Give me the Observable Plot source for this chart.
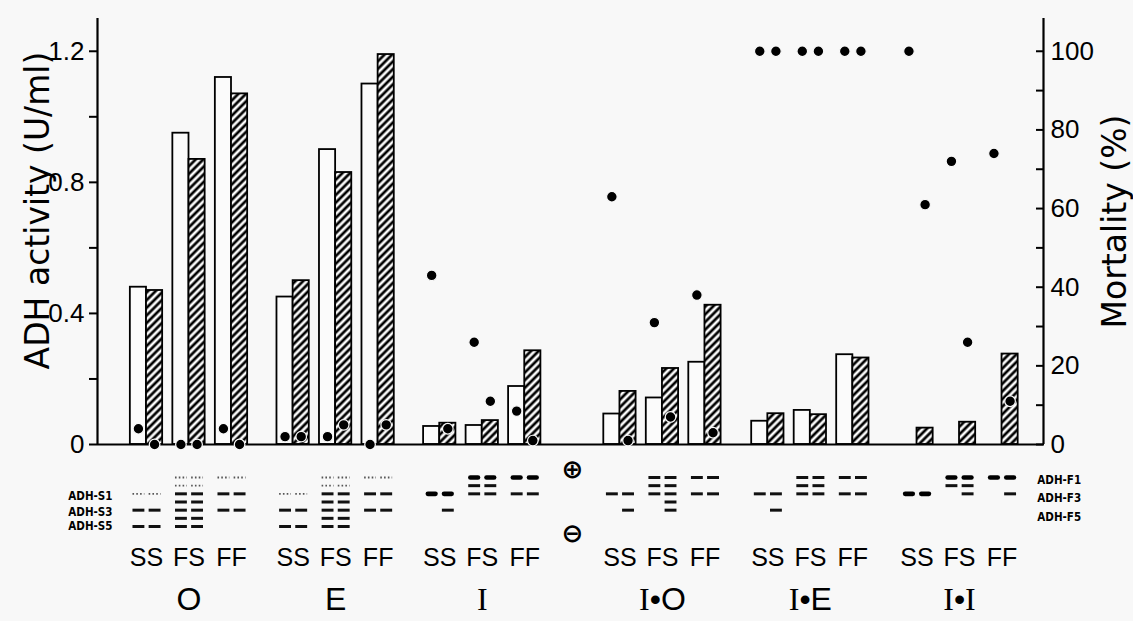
<!DOCTYPE html>
<html>
<head>
<meta charset="utf-8">
<script src="https://cdn.jsdelivr.net/npm/d3@7"></script>
<script src="https://cdn.jsdelivr.net/npm/@observablehq/plot@0.6"></script>
<style>
html, body { margin: 0; padding: 0; background: #f8f8f8; }
#chart svg { display: block; }
</style>
</head>
<body>
<div id="chart"></div>
<script>
// ---------------- data ----------------
const groups = ["O", "E", "I", "I•O", "I•E", "I•I"];
const genotypes = ["SS", "FS", "FF"];

// ADH activity (U/ml): open bars (females) and hatched bars (males), rows = groups, cols = SS, FS, FF
const adhFemale = [
  [0.48, 0.95, 1.12],
  [0.45, 0.90, 1.10],
  [0.055, 0.058, 0.177],
  [0.093, 0.142, 0.251],
  [0.071, 0.104, 0.274],
  [0, 0, 0]
];
const adhMale = [
  [0.47, 0.87, 1.07],
  [0.50, 0.83, 1.19],
  [0.065, 0.073, 0.286],
  [0.162, 0.232, 0.425],
  [0.094, 0.091, 0.264],
  [0.05, 0.068, 0.276]
];
// Mortality (%) — dots
const mortFemale = [
  [4, 0, 4],
  [2, 2, 0],
  [43, 26, 8.5],
  [63, 31, 38],
  [100, 100, 100],
  [100, 72, 74]
];
const mortMale = [
  [0, 0, 0],
  [2, 5, 5],
  [4, 11, 1],
  [1, 7, 3],
  [100, 100, 100],
  [61, 26, 11]
];
// Zymogram band patterns: [female lane, male lane]; one character per band row (0..6)
// "." faint band, "-" band, "=" strong band, " " no band
const bandPatterns = [
  [["  . - -", "  . - -"], ["..-----", "..-----"], [". - -  ", ". - -  "]],
  [["  . - -", "  . - -"], ["..-----", "..-----"], [". - -  ", ". - -  "]],
  [["  =    ", "  = -  "], ["=--    ", "=--    "], ["= -    ", "= -    "]],
  [["  -    ", "  - -  "], ["---    ", "-----  "], ["- -    ", "- -    "]],
  [["  -    ", "  - -  "], ["---    ", "---    "], ["- -    ", "- -    "]],
  [["  =    ", "  =    "], ["=-     ", "=--    "], ["=      ", "= -    "]]
];
const sLabels = ["ADH-S1", "ADH-S3", "ADH-S5"];
const fLabels = ["ADH-F1", "ADH-F3", "ADH-F5"];
const poleLabels = ["⊕", "⊖"];
const leftTicks = [0, 0.2, 0.4, 0.6, 0.8, 1.0, 1.2];
const rightTicks = [0, 10, 20, 30, 40, 50, 60, 70, 80, 90, 100];
const yTitle = "ADH activity (U/ml)";
const y2Title = "Mortality (%)";

// ---------------- layout ----------------
const FONT = "'Liberation Sans', Arial, sans-serif";
const TITLEFONT = "'DejaVu Sans', 'Liberation Sans', sans-serif";
const NARROW = "'Liberation Sans Narrow', 'DejaVu Sans Condensed', 'Liberation Sans', sans-serif";
const PAPER = "#f8f8f8";
const W = 1133;
const xDomain = [-1.153, 21.106];
const groupX = [0, 3.45, 6.9, 11.14, 14.62, 18.13];
const barW = 0.38;
const mortToY = m => m * 1.2 / 100;

const records = [];
groups.forEach((g, gi) => genotypes.forEach((gt, ki) => {
  [0, 1].forEach(li => {
    records.push({
      group: g, genotype: gt, gi, ki, li,
      adh: (li ? adhMale : adhFemale)[gi][ki],
      mort: (li ? mortMale : mortFemale)[gi][ki]
    });
  });
}));
const slot = d => groupX[d.gi] + d.ki;
const barX1 = d => slot(d) + (d.li ? 0 : -barW);
const barX2 = d => slot(d) + (d.li ? barW : 0);
const barMid = d => slot(d) + (d.li ? barW / 2 : -barW / 2);

const main = Plot.plot({
  width: W, height: 452,
  marginTop: 18, marginBottom: 8, marginLeft: 97, marginRight: 90,
  style: {background: PAPER, fontFamily: FONT, color: "black", overflow: "visible"},
  x: {domain: xDomain, axis: null},
  y: {domain: [0, 1.3]},
  marks: [
    Plot.rect(records.filter(d => d.li === 0 && d.adh > 0),
      {x1: barX1, x2: barX2, y1: 0, y2: "adh", fill: "#fbfbfb", stroke: "black", strokeWidth: 1.8}),
    Plot.rect(records.filter(d => d.li === 1 && d.adh > 0),
      {x1: barX1, x2: barX2, y1: 0, y2: "adh", fill: "url(#hatch)", stroke: "black", strokeWidth: 1.8}),
    Plot.ruleY([0], {strokeWidth: 2.2}),
    Plot.ruleX(xDomain, {y1: 0, y2: 1.3, strokeWidth: 2.2}),
    Plot.axisY(leftTicks, {
      anchor: "left", tickSize: 8, tickPadding: 5, strokeWidth: 2, fontSize: 26, label: null,
      tickFormat: d => { const t = Math.round(d * 10); return t % 4 === 0 ? (t === 0 ? "0" : d.toFixed(1)) : ""; }
    }),
    Plot.axisY(rightTicks.map(mortToY), {
      anchor: "right", tickSize: -8, tickPadding: 15, strokeWidth: 2, fontSize: 26, label: null,
      tickFormat: v => { const p = Math.round(v / 1.2 * 100); return p % 20 === 0 ? String(p) : ""; }
    }),
    Plot.dot(records, {x: barMid, y: d => mortToY(d.mort), r: 5.3, fill: "black", stroke: PAPER, strokeWidth: 1.2}),
    Plot.text([yTitle], {text: d => d, frameAnchor: "left", textAnchor: "middle", dx: -59, dy: -21, rotate: -90, fontSize: 33, fontFamily: TITLEFONT}),
    Plot.text([y2Title], {text: d => d, frameAnchor: "right", textAnchor: "middle", dx: 72, dy: -10, rotate: -90, fontSize: 33, fontFamily: TITLEFONT})
  ]
});

// hatch pattern
const NS = "http://www.w3.org/2000/svg";
const defs = document.createElementNS(NS, "defs");
const pat = document.createElementNS(NS, "pattern");
pat.setAttribute("id", "hatch");
pat.setAttribute("patternUnits", "userSpaceOnUse");
pat.setAttribute("width", "5.4");
pat.setAttribute("height", "5.4");
pat.setAttribute("patternTransform", "rotate(45)");
const pbg = document.createElementNS(NS, "rect");
pbg.setAttribute("width", "5.4"); pbg.setAttribute("height", "5.4"); pbg.setAttribute("fill", "#fbfbfb");
const pln = document.createElementNS(NS, "line");
pln.setAttribute("x1", "2.7"); pln.setAttribute("x2", "2.7");
pln.setAttribute("y1", "-1"); pln.setAttribute("y2", "7");
pln.setAttribute("stroke", "black"); pln.setAttribute("stroke-width", "2.7");
pat.appendChild(pbg); pat.appendChild(pln); defs.appendChild(pat);
main.insertBefore(defs, main.firstChild);

// ---------------- bottom: zymograms and labels ----------------
const bandRecords = [];
bandPatterns.forEach((grp, gi) => grp.forEach((lanes, ki) => lanes.forEach((pat, li) => {
  [...pat].forEach((ch, row) => { if (ch !== " ") bandRecords.push({gi, ki, li, row, style: ch}); });
})));
const bandHalf = 0.14;
const bandStyles = {
  ".": {stroke: "#555", strokeWidth: 1.8, strokeDasharray: "1.6,2.2", inset: 0},
  "-": {stroke: "#111", strokeWidth: 3, inset: 0},
  "=": {stroke: "#000", strokeWidth: 4.6, strokeLinecap: "round", inset: 0.05}
};
const bandMarks = Object.entries(bandStyles).map(([s, st]) => {
  const {inset, ...style} = st;
  return Plot.link(bandRecords.filter(d => d.style === s), {
    x1: d => barMid(d) - bandHalf + inset, x2: d => barMid(d) + bandHalf - inset,
    y1: "row", y2: "row", ...style
  });
});
const genoLabels = [];
groups.forEach((g, gi) => genotypes.forEach((gt, ki) => genoLabels.push({gi, ki, text: gt})));

const bottom = Plot.plot({
  width: W, height: 169,
  marginTop: 0, marginBottom: 0, marginLeft: 97, marginRight: 90,
  style: {background: PAPER, fontFamily: FONT, color: "black", overflow: "visible"},
  x: {domain: xDomain, axis: null},
  y: {domain: [0, 6], range: [25, 74], axis: null},
  marks: [
    ...bandMarks,
    Plot.text(sLabels, {text: d => d, x: -0.8, y: (d, i) => [2.33, 4.29, 6][i], textAnchor: "end", fontWeight: "bold", fontSize: 11.5, fontFamily: NARROW}),
    Plot.text(fLabels, {text: d => d, x: 20.96, y: (d, i) => [0.37, 2.57, 4.9][i], textAnchor: "start", fontWeight: "bold", fontSize: 11.5, fontFamily: NARROW}),
    Plot.text(poleLabels, {text: d => d, x: 10.02, y: (d, i) => [-0.98, 6.86][i], fontSize: 26, fontWeight: "bold", fontFamily: TITLEFONT}),
    Plot.text(genoLabels, {text: "text", x: d => groupX[d.gi] + d.ki, y: 9.8, fontSize: 25}),
    Plot.text(groups, {text: d => d, x: (d, i) => groupX[i] + 1, y: 15.0, fontSize: 32})
  ]
});

bottom.querySelectorAll("text").forEach(t => {
  const s = t.textContent;
  if (groups.includes(s) && s.includes("I")) {
    t.textContent = "";
    for (const ch of s) {
      const ts = document.createElementNS(NS, "tspan");
      ts.textContent = ch;
      if (ch === "I") ts.setAttribute("font-family", "'Liberation Serif', 'DejaVu Serif', serif");
      t.appendChild(ts);
    }
  }
});

const chart = document.getElementById("chart");
chart.appendChild(main);
chart.appendChild(bottom);
</script>
</body>
</html>
